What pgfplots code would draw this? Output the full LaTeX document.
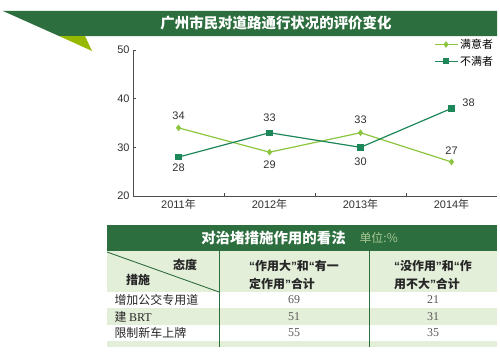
\documentclass[border=0pt]{standalone}
\usepackage{pgfplots}
\pgfplotsset{compat=1.18}
\usepackage{fontspec}
\setmainfont{Noto Sans CJK SC}
\newfontfamily\lsans{Liberation Sans}
\newfontfamily\lserif{Liberation Serif}
\definecolor{banner}{RGB}{45,110,62}
\definecolor{limeg}{RGB}{150,185,0}
\definecolor{sat}{RGB}{140,198,63}
\definecolor{dis}{RGB}{30,135,90}
\definecolor{lightg}{RGB}{227,239,217}
\definecolor{unitc}{RGB}{170,200,150}
\definecolor{txt}{RGB}{50,50,50}
\newcommand{\oq}{{\lsans\bfseries “}}
\newcommand{\cq}{{\lsans\bfseries ”}}
\begin{document}
\begin{tikzpicture}[x=1bp,y=1bp]
\path[fill=white] (0,0) rectangle (500,354);
% title banner
\fill[banner] (3,343) -- (497,343) -- (497,318) -- (59,318) -- cycle;
\fill[limeg] (59,318) -- (85,318) -- (92,303) -- cycle;
\node[text=white, font=\bfseries\fontsize{14.5}{16}\selectfont] at (276,330.5) {广州市民对道路通行状况的评价变化};

\begin{axis}[at={(133bp,158bp)}, anchor=south west, scale only axis,
  width=364bp, height=146bp,
  xmin=-0.5, xmax=3.5, ymin=20, ymax=50,
  axis x line*=bottom, axis y line*=left,
  axis line style={draw=black!70, line width=0.8pt},
  ytick={20,30,40,50},
  /pgf/number format/assume math mode=true,
  y tick label style={font=\lsans\fontsize{11}{12}\selectfont, text=txt},
  x tick label style={font=\fontsize{11}{12}\selectfont, text=txt},
  xtick={0.5,1.5,2.5}, xticklabels={},
  extra x ticks={0,1,2,3},
  extra x tick labels={{\lsans 2011}年,{\lsans 2012}年,{\lsans 2013}年,{\lsans 2014}年},
  extra x tick style={major tick length=0pt},
  major tick length=3bp,
  tick style={draw=black!70, line width=0.8pt},
  clip=false,
  legend style={at={(0.995,1.09)}, anchor=north east, draw=none, fill=none,
    font=\fontsize{11}{12}\selectfont, row sep=2bp, inner sep=0pt},
  legend cell align=left,
  legend image code/.code={\draw[mark repeat=2,mark phase=2,#1] plot coordinates {(0bp,0bp)(11.5bp,0bp)(23bp,0bp)};},
]
\addplot[sat, line width=1.2pt, mark=diamond*, mark size=2.4pt] coordinates {(0,34)(1,29)(2,33)(3,27)};
\addlegendentry{满意者}
\addplot[dis, line width=1.2pt, mark=square*, mark size=2.6pt] coordinates {(0,28)(1,33)(2,30)(3,38)};
\addlegendentry{不满者}
\begin{scope}[every node/.style={font=\lsans\fontsize{11}{12}\selectfont, text=txt}]
\node[yshift=11.7bp] at (axis cs:0,34) {34};
\node[yshift=-11bp] at (axis cs:0,28) {28};
\node[yshift=15.5bp] at (axis cs:1,33) {33};
\node[yshift=-13bp] at (axis cs:1,29) {29};
\node[yshift=13bp] at (axis cs:2,33) {33};
\node[yshift=-14.5bp] at (axis cs:2,30) {30};
\node[xshift=17bp, yshift=5.4bp] at (axis cs:3,38) {38};
\node[yshift=11bp] at (axis cs:3,27) {27};
\end{scope}
\end{axis}

% table
\fill[banner] (107,129) rectangle (497,103);
\node[text=white, font=\bfseries\fontsize{14.5}{16}\selectfont] at (273.5,116) {对治堵措施作用的看法};
\node[text=unitc, anchor=west, font=\fontsize{12}{14}\selectfont] at (356,116) {单位:\%};
\fill[lightg] (107,103) rectangle (497,62);
\fill[lightg] (107,46) rectangle (497,29);
\fill[lightg] (107,13) rectangle (497,7);
\draw[banner, line width=0.9bp] (219,103) -- (219,7);
\draw[banner, line width=0.9bp] (369,103) -- (369,7);
\draw[banner, line width=0.9bp] (107,102) -- (219,62);
\begin{scope}[every node/.style={font=\bfseries\fontsize{12}{18}\selectfont, text=black!85}]
\node at (185,89) {态度};
\node at (138,74) {措施};
\node[align=left] at (294,79) {\oq 作用大\cq 和\oq 有一\\定作用\cq 合计};
\node[align=left] at (433,79) {\oq 没作用\cq 和\oq 作\\用不大\cq 合计};
\end{scope}
\begin{scope}[every node/.style={font=\fontsize{12}{14}\selectfont, text=black!85}]
\node[anchor=west] at (111,54) {增加公交专用道};
\node[anchor=west] at (111,37) {建 {\lserif BRT}};
\node[anchor=west] at (111,21) {限制新车上牌};
\end{scope}
\begin{scope}[every node/.style={font=\lserif\fontsize{12}{14}\selectfont, text=black!65}]
\node at (294,54) {69}; \node at (433,54) {21};
\node at (294,37) {51}; \node at (433,37) {31};
\node at (294,21) {55}; \node at (433,21) {35};
\end{scope}
\end{tikzpicture}
\end{document}
